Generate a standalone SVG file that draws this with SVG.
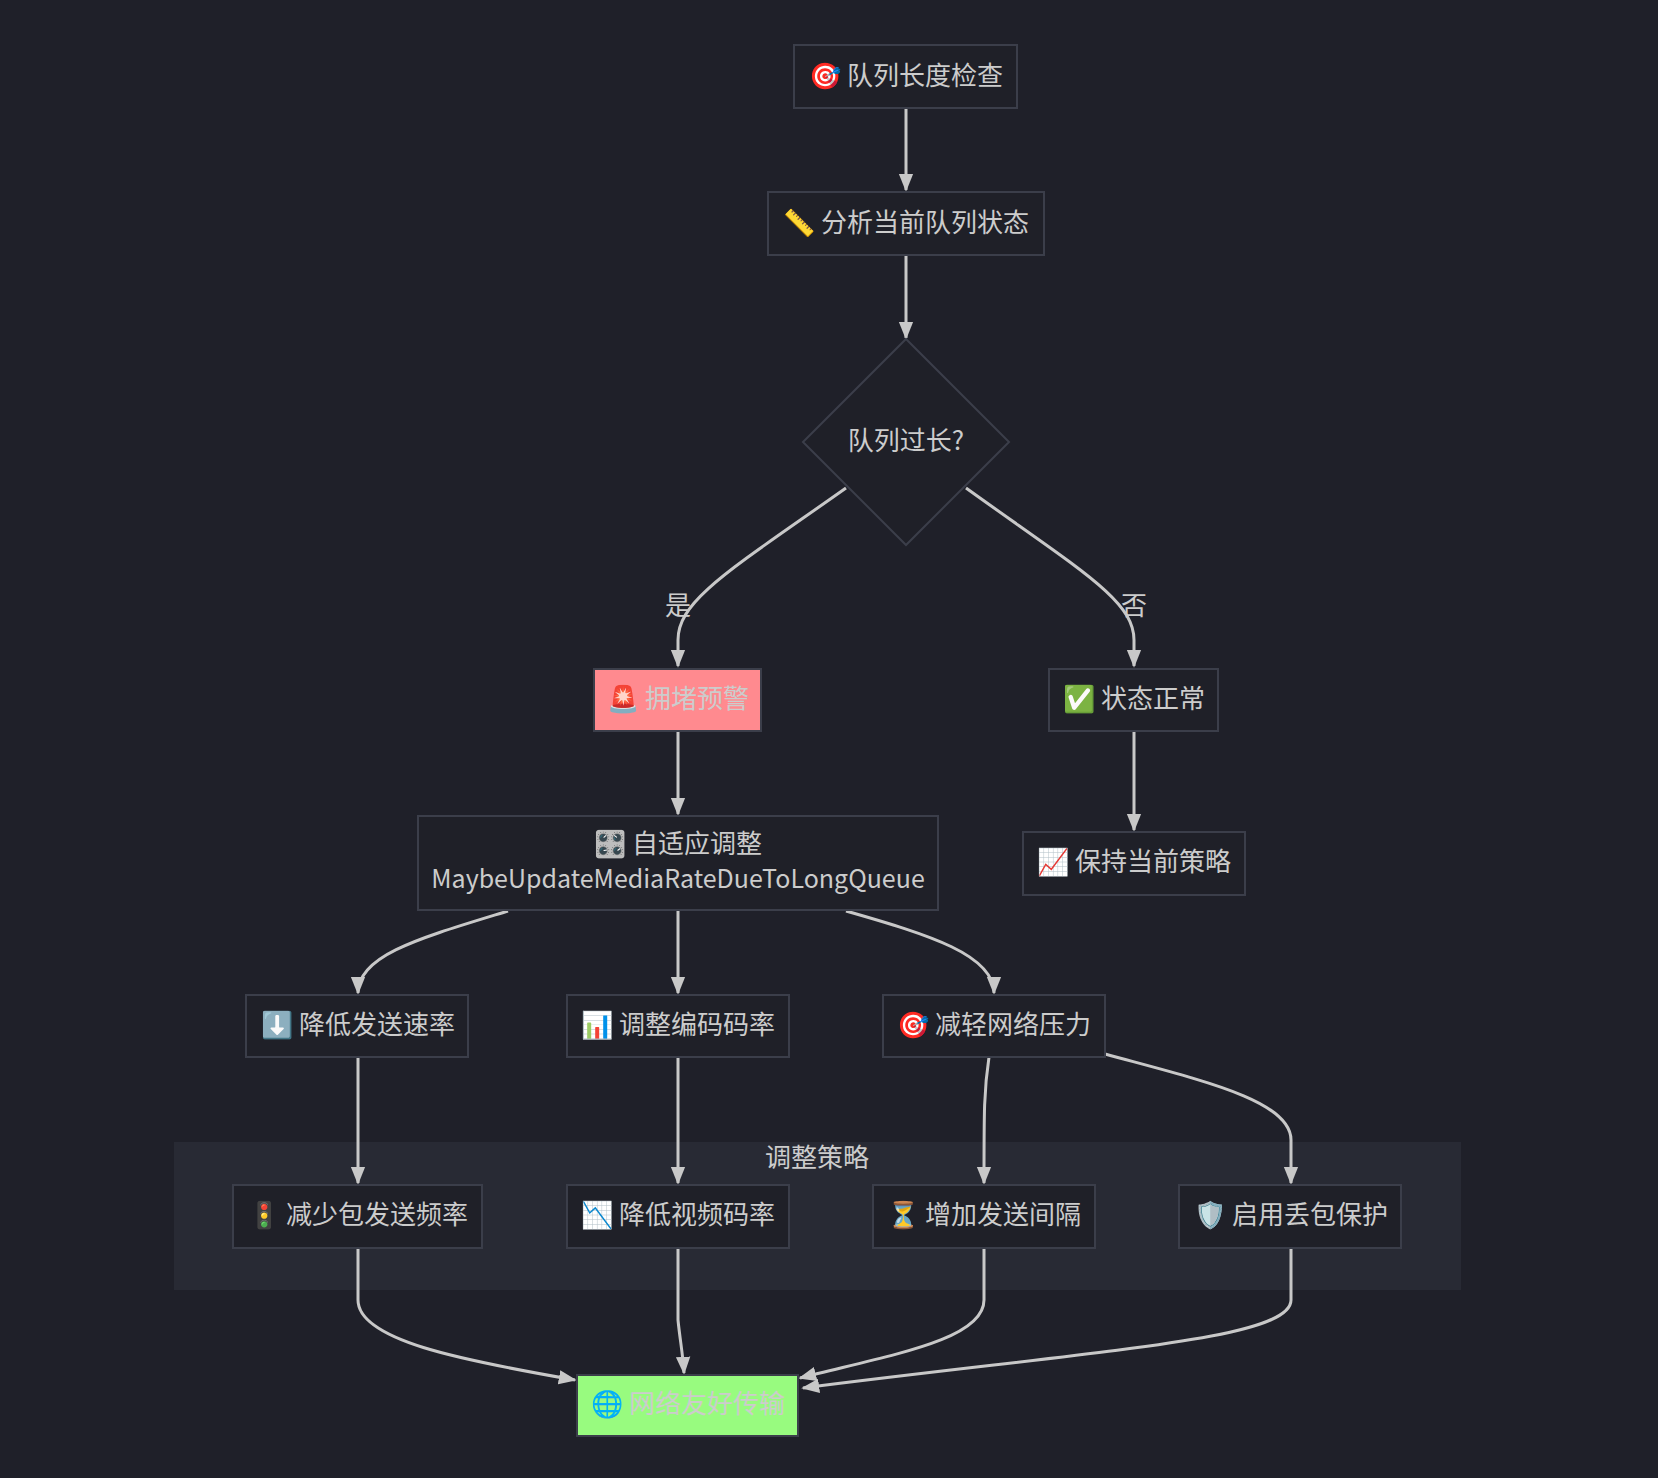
<svg xmlns="http://www.w3.org/2000/svg" width="1658" height="1478" viewBox="0 0 1658 1478">
<defs>
<marker id="ah" viewBox="0 0 10 10" refX="9" refY="5" markerWidth="18" markerHeight="18" markerUnits="userSpaceOnUse" orient="auto"><path d="M0,1 L10,5 L0,9 z" fill="#c8c8c8"/></marker>
<style>
.n rect,.n polygon{fill:#1f2028;stroke:#3b3e4a;stroke-width:2}
text{font-family:"Noto Sans CJK SC","Noto Sans",sans-serif;font-size:26px;fill:#cccccc;text-anchor:middle;dominant-baseline:central}
.e path{fill:none;stroke:#c8c8c8;stroke-width:3}
</style>
</defs>
<rect width="1658" height="1478" fill="#1f2029"/>
<g id="cluster"><rect x="174" y="1142" width="1287" height="148" fill="#282a34"/><text x="817" y="1155">调整策略</text></g>
<g class="e" id="connectors">
<path d="M906,108 V190" marker-end="url(#ah)"/>
<path d="M906,255 V338" marker-end="url(#ah)"/>
<path d="M846,488 C730,570 678,600 678,640 L678,666" marker-end="url(#ah)"/>
<path d="M966,488 C1080,570 1134,600 1134,640 L1134,666" marker-end="url(#ah)"/>
<path d="M678,731 V814" marker-end="url(#ah)"/>
<path d="M1134,731 V830" marker-end="url(#ah)"/>
<path d="M508,911 C420,938 358,955 358,993" marker-end="url(#ah)"/>
<path d="M678,910 V993" marker-end="url(#ah)"/>
<path d="M846,911 C930,935 994,955 994,993" marker-end="url(#ah)"/>
<path d="M358,1057 V1183" marker-end="url(#ah)"/>
<path d="M678,1057 V1183" marker-end="url(#ah)"/>
<path d="M989,1057 C984,1090 984,1110 984,1183" marker-end="url(#ah)"/>
<path d="M1105,1054 C1200,1080 1291,1100 1291,1140 L1291,1183" marker-end="url(#ah)"/>
<path d="M358,1248 L358,1300 C358,1340 460,1360 575,1380" marker-end="url(#ah)"/>
<path d="M678,1248 L678,1320 C680,1340 683,1355 684,1373" marker-end="url(#ah)"/>
<path d="M984,1248 L984,1300 C984,1340 890,1355 800,1378" marker-end="url(#ah)"/>
<path d="M1291,1248 L1291,1300 C1291,1340 1100,1350 803,1388" marker-end="url(#ah)"/>
</g>
<text x="678" y="603">是</text>
<text x="1134" y="603">否</text>
<g class="n" id="n1"><rect x="794" y="45" width="223" height="63"/><text x="906" y="73">🎯 队列长度检查</text></g>
<g class="n" id="n2"><rect x="768" y="192" width="276" height="63"/><text x="906" y="220">📏 分析当前队列状态</text></g>
<g class="n" id="n3"><polygon points="906,339 1009,442 906,545 803,442"/><text x="906" y="438">队列过长?</text></g>
<g class="n" id="n4"><rect x="594" y="669" width="167" height="62" style="fill:#ff8a8f"/><text x="678" y="696">🚨 拥堵预警</text></g>
<g class="n" id="n5"><rect x="1049" y="669" width="169" height="62"/><text x="1134" y="696">✅ 状态正常</text></g>
<g class="n" id="n6"><rect x="418" y="816" width="520" height="94"/><text x="678" y="841">🎛️ 自适应调整</text><text x="678" y="877" style="font-size:25px">MaybeUpdateMediaRateDueToLongQueue</text></g>
<g class="n" id="n7"><rect x="1023" y="832" width="222" height="63"/><text x="1134" y="859">📈 保持当前策略</text></g>
<g class="n" id="n8"><rect x="246" y="995" width="222" height="62"/><text x="358" y="1022">⬇️ 降低发送速率</text></g>
<g class="n" id="n9"><rect x="567" y="995" width="222" height="62"/><text x="678" y="1022">📊 调整编码码率</text></g>
<g class="n" id="n10"><rect x="883" y="995" width="222" height="62"/><text x="994" y="1022">🎯 减轻网络压力</text></g>
<g class="n" id="n11"><rect x="233" y="1185" width="249" height="63"/><text x="358" y="1212">🚦 减少包发送频率</text></g>
<g class="n" id="n12"><rect x="567" y="1185" width="222" height="63"/><text x="678" y="1212">📉 降低视频码率</text></g>
<g class="n" id="n13"><rect x="873" y="1185" width="222" height="63"/><text x="984" y="1212">⏳ 增加发送间隔</text></g>
<g class="n" id="n14"><rect x="1179" y="1185" width="222" height="63"/><text x="1291" y="1212">🛡️ 启用丢包保护</text></g>
<g class="n" id="n15"><rect x="577" y="1375" width="221" height="61" style="fill:#98fb7f"/><text x="688" y="1401">🌐 网络友好传输</text></g>
</svg>
